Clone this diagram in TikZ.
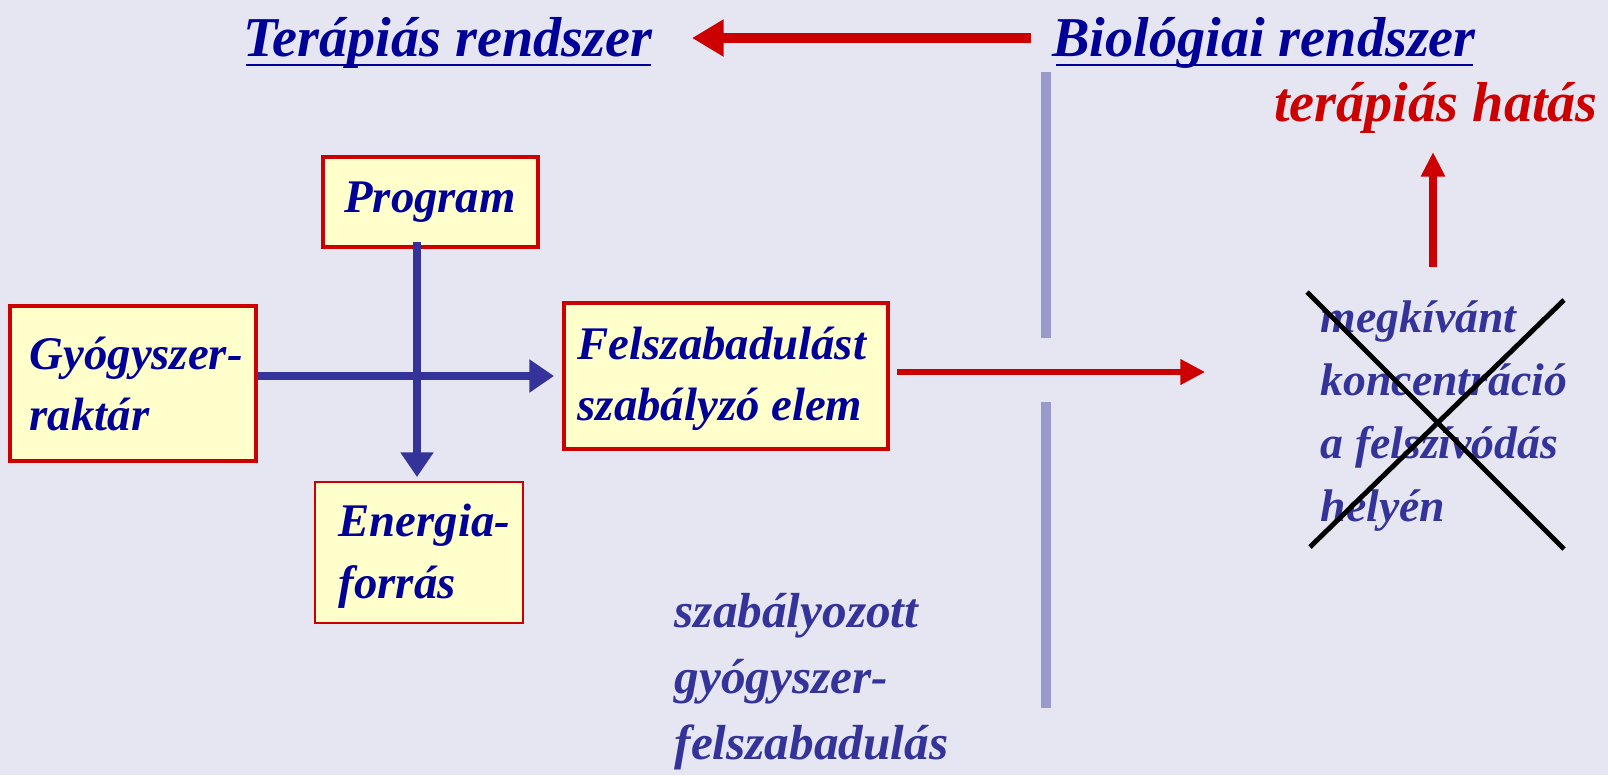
\documentclass[tikz,border=0pt]{standalone}
\usepackage{fontspec}
\setmainfont{Liberation Serif}
\usetikzlibrary{arrows.meta}
\definecolor{bg}{RGB}{230,230,242}
\definecolor{dblue}{RGB}{0,0,153}
\definecolor{mblue}{RGB}{51,51,153}
\definecolor{lav}{RGB}{153,153,204}
\definecolor{bred}{RGB}{204,0,0}
\definecolor{byellow}{RGB}{255,255,204}
\tikzset{
  boxnode/.style={draw=bred, line width=0.9pt, fill=byellow, inner sep=0pt, text=dblue, align=left},
  boxtext/.style={text=dblue, font=\fontsize{13.3}{17.5}\selectfont\bfseries\itshape, align=left, inner sep=0pt, anchor=west},
  title/.style={text=dblue, font=\fontsize{16}{19}\selectfont\bfseries\itshape, inner sep=0pt},
  softtext/.style={text=mblue, font=\fontsize{13}{18}\selectfont\bfseries\itshape, align=left, inner sep=0pt, anchor=west},
  bluearrow/.style={draw=mblue, line width=2.3pt, -{Triangle[length=7pt,width=9pt]}},
  redarrow/.style={draw=bred, line width=1.5pt, -{Triangle[length=7pt,width=7pt]}},
  sepline/.style={draw=lav, line width=3pt},
  crossline/.style={draw=black, line width=1.4pt}
}
\begin{document}
\begin{tikzpicture}[x=0.01cm,y=-0.01cm]
\fill[bg] (0,0) rectangle (1608,775);
\useasboundingbox (0,0) rectangle (1608,775);
% titles
\node[title, anchor=base] (t1) at (448,56) {Terápiás rendszer};
\draw[dblue, line width=0.8pt] (246,65) -- (651,65);
\node[title, anchor=base] (t2) at (1264,56) {Biológiai rendszer};
\draw[dblue, line width=0.8pt] (1056,65) -- (1473,65);
\coordinate (ra1) at (1031,38);
\coordinate (ra2) at (692,38);
\draw[draw=bred, line width=3pt, -{Triangle[length=9pt,width=10pt]}] (ra1) -- (ra2);
% separator
\coordinate (s1) at (1046,72); \coordinate (s2) at (1046,338);
\coordinate (s3) at (1046,402); \coordinate (s4) at (1046,708);
\draw[sepline] (s1) -- (s2);
\draw[sepline] (s3) -- (s4);
% boxes
\draw[boxnode] (323,157) rectangle (538,247);
\node[boxtext, anchor=center] (prog) at (430,202) {Program};
\draw[boxnode] (10,306) rectangle (256,461);
\node[boxtext] (gy) at (29,384) {Gyógyszer-\\raktár};
\draw[boxnode] (564,303) rectangle (888,449);
\node[boxtext] (fe) at (577,379) {Felszabadulást\\szabályzó elem};
\draw[boxnode, line width=0.6pt] (315,482) rectangle (523,623);
\node[boxtext] (en) at (338,556) {Energia-\\forrás};
% blue arrows
\coordinate (b1) at (258,376); \coordinate (b2) at (554,376);
\coordinate (v1) at (417,242); \coordinate (v2) at (417,477);
\draw[bluearrow] (b1) -- (b2);
\draw[bluearrow] (v1) -- (v2);
% red right arrow
\coordinate (r1) at (897,372); \coordinate (r2) at (1205,372);
\draw[redarrow] (r1) -- (r2);
% therapeutic effect
\node[text=bred, font=\fontsize{16}{19}\selectfont\bfseries\itshape, inner sep=0pt] (th) at (1436,108) {terápiás hatás};
\coordinate (u1) at (1433,267); \coordinate (u2) at (1433,152);
\draw[draw=bred, line width=2pt, -{Triangle[length=7pt,width=6.5pt]}] (u1) -- (u2);
% crossed text
\node[softtext] (mk) at (1320,416) {megkívánt\\koncentráció\\a felszívódás\\helyén};
\coordinate (c1) at (1307,292); \coordinate (c2) at (1564,549);
\coordinate (c3) at (1564,300); \coordinate (c4) at (1310,547);
\draw[crossline] (c1) -- (c2);
\draw[crossline] (c3) -- (c4);
% bottom text
\node[softtext, font=\fontsize{14}{18.8}\selectfont\bfseries\itshape] (sz) at (674,682) {szabályozott\\gyógyszer-\\felszabadulás};
\end{tikzpicture}
\end{document}
